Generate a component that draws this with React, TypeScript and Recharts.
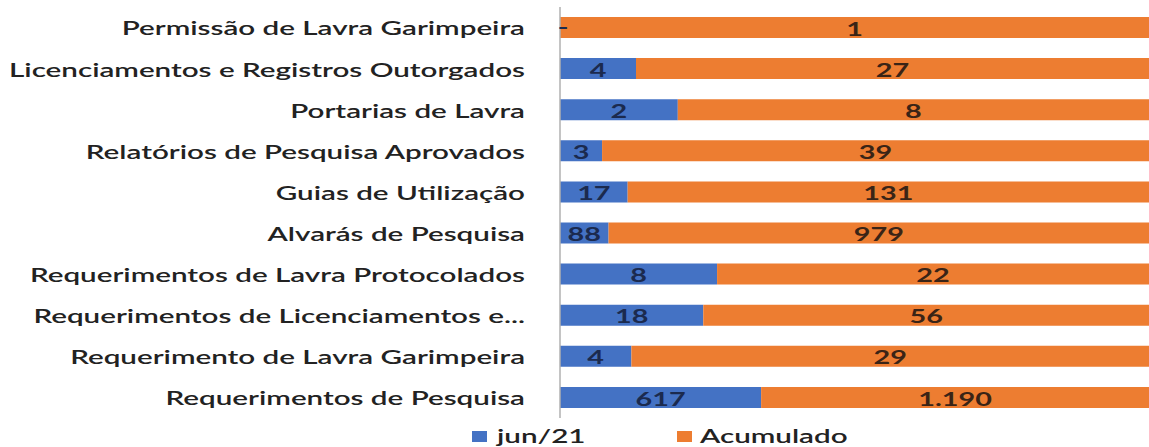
import React from "react";
import { BarChart, Bar, XAxis, YAxis, LabelList } from "recharts";

const categories = [
  "Permissão de Lavra Garimpeira",
  "Licenciamentos e Registros Outorgados",
  "Portarias de Lavra",
  "Relatórios de Pesquisa Aprovados",
  "Guias de Utilização",
  "Alvarás de Pesquisa",
  "Requerimentos de Lavra Protocolados",
  "Requerimentos de Licenciamentos e...",
  "Requerimento de Lavra Garimpeira",
  "Requerimentos de Pesquisa",
];
const jun21 = [0, 4, 2, 3, 17, 88, 8, 18, 4, 617];
const acumulado = [1, 27, 8, 39, 131, 979, 22, 56, 29, 1190];

const data = categories.map((name, i) => ({
  name,
  jun21: jun21[i],
  acumulado: acumulado[i],
}));

const BLUE = "#4472C4";
const ORANGE = "#ED7D31";
const FONT = "Lato, 'Open Sans', sans-serif";
const STRETCH = 1.48;
const NUM_STRETCH = 1.6;

const fmt = (v: number) => (v === 0 ? "-" : v.toLocaleString("pt-BR"));

const CategoryTick = ({ x, y, payload }: any) => (
  <text
    transform={`translate(${x - 27},${y}) scale(${STRETCH},1)`}
    textAnchor="end"
    dominantBaseline="central"
    fontFamily={FONT}
    fontSize={20}
    fontWeight={600}
    fill="#222"
  >
    {payload.value}
  </text>
);

const numText = (cx: number, cy: number, txt: string, color: string) => (
  <text
    transform={`translate(${cx},${cy + 1}) scale(${NUM_STRETCH},1)`}
    textAnchor="middle"
    dominantBaseline="central"
    fontFamily={FONT}
    fontSize={18}
    fontWeight={700}
    fill={color}
  >
    {txt}
  </text>
);

const blueLabel = (props: any) => {
  const { x, y, width, height, value } = props;
  if (!Number(value)) return null;
  return numText(Number(x) + Number(width) / 2, Number(y) + Number(height) / 2, fmt(Number(value)), "#1b2a4e");
};

const orangeLabel = (props: any) => {
  const { x, y, width, height, value, index } = props;
  const cy = Number(y) + Number(height) / 2;
  return (
    <g>
      {jun21[index] === 0 && numText(Number(x) + 3, cy - 2, "-", "#1b2a4e")}
      {numText(Number(x) + Number(width) / 2, cy, fmt(Number(value)), "#3a2416")}
    </g>
  );
};

const legendText: React.CSSProperties = {
  position: "absolute",
  top: 425,
  fontFamily: FONT,
  fontSize: 20,
  fontWeight: 600,
  color: "#222",
  lineHeight: "20px",
  transform: `scaleX(${STRETCH})`,
  transformOrigin: "left center",
  whiteSpace: "nowrap",
};

export default function App() {
  return (
    <div style={{ position: "absolute", left: 0, top: 0, width: 1149, height: 447, background: "#fff", overflow: "hidden" }}>
      <BarChart
        width={1149}
        height={447}
        data={data}
        layout="vertical"
        stackOffset="expand"
        margin={{ top: 7, right: 0, bottom: 29, left: 0 }}
      >
        <XAxis type="number" hide domain={[0, 1]} />
        <YAxis
          type="category"
          dataKey="name"
          width={560}
          tick={<CategoryTick />}
          tickLine={false}
          axisLine={{ stroke: "#b0b0b0", strokeWidth: 1.5 }}
          interval={0}
        />
        <Bar dataKey="jun21" stackId="a" fill={BLUE} barSize={21} isAnimationActive={false}>
          <LabelList dataKey="jun21" content={blueLabel} />
        </Bar>
        <Bar dataKey="acumulado" stackId="a" fill={ORANGE} barSize={21} isAnimationActive={false}>
          <LabelList dataKey="acumulado" content={orangeLabel} />
        </Bar>
      </BarChart>
      <div style={{ position: "absolute", left: 472, top: 431, width: 15, height: 11, background: BLUE }} />
      <div style={{ ...legendText, left: 497 }}>jun/21</div>
      <div style={{ position: "absolute", left: 677, top: 431, width: 15, height: 11, background: ORANGE }} />
      <div style={{ ...legendText, left: 700 }}>Acumulado</div>
    </div>
  );
}
